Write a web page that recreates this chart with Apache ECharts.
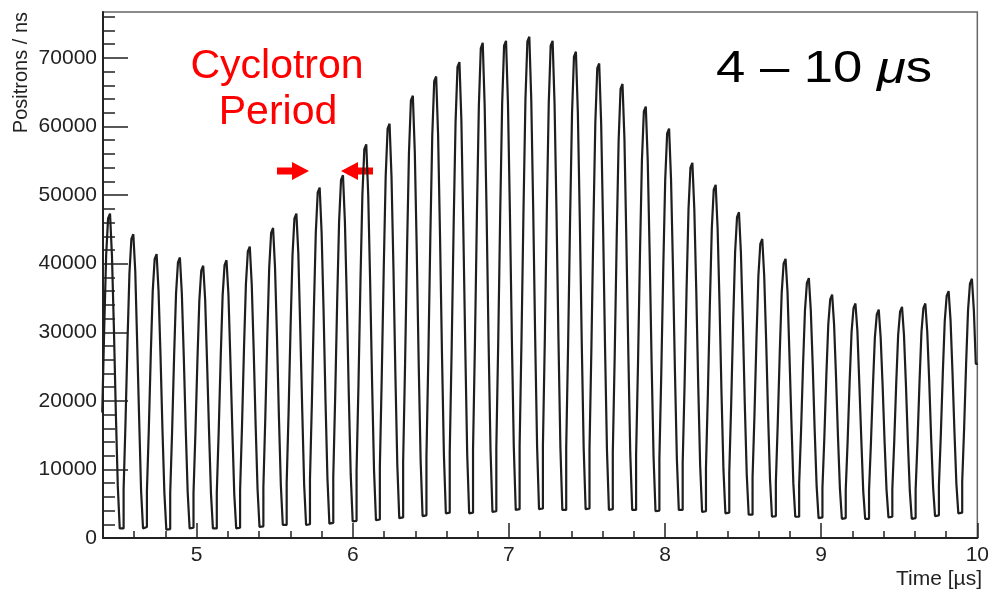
<!DOCTYPE html>
<html>
<head>
<meta charset="utf-8">
<script src="https://cdn.jsdelivr.net/npm/echarts@6/dist/echarts.min.js"></script>
<style>
html,body{margin:0;padding:0;background:#fff;}
#chart{width:992px;height:592px;}
</style>
</head>
<body>
<div id="chart"></div>
<script>
// Histogram: bin contents (positrons per bin), bins of ~12.4 ns (1/12 cyclotron period)
const binStart = 4.39527;     // µs, left edge of first bin
const binWidth = 0.0124333;   // µs
const counts = [
  18300, 30500, 41200, 46600,
  47300, 41100, 30500, 18200, 7600, 1400, 1400, 7100, 17100, 28600, 38600, 43600,
  44300, 38900, 28300, 17400, 6900, 1400, 1600, 6800, 16000, 26800, 36000, 40700,
  41400, 36000, 26700, 15900, 6600, 1200, 1300, 6500, 15700, 26400, 35600, 40200,
  40900, 35600, 26400, 15900, 6700, 1400, 1500, 6500, 15400, 25700, 34600, 39000,
  39700, 34800, 25500, 15600, 6500, 1400, 1400, 6600, 15700, 26200, 35300, 39800,
  40500, 35500, 26000, 15900, 6400, 1400, 1500, 6900, 16400, 27500, 37000, 41800,
  42500, 37000, 27500, 16600, 7100, 1600, 1700, 7400, 17600, 29200, 39400, 44500,
  45200, 39400, 29400, 17700, 7700, 1900, 1900, 8000, 18500, 30700, 41200, 46600,
  47300, 41500, 30400, 18800, 7800, 1900, 2000, 8500, 19900, 33100, 44500, 50400,
  51100, 44500, 33200, 20000, 8700, 2100, 2200, 8900, 20700, 34300, 46100, 52200,
  52900, 46100, 34400, 20900, 9200, 2400, 2500, 9800, 22500, 37300, 50000, 56700,
  57400, 50100, 37300, 22700, 9900, 2600, 2700, 10300, 23800, 39200, 52700, 59700,
  60400, 52700, 39400, 23900, 10600, 2900, 3000, 11200, 25400, 42000, 56200, 63800,
  64500, 56300, 42100, 25600, 11400, 3200, 3300, 11800, 26700, 43800, 58700, 66600,
  67300, 58800, 44000, 26900, 12100, 3600, 3700, 12400, 27700, 45300, 60600, 68700,
  69400, 60900, 45000, 27900, 12200, 3600, 3700, 12800, 28700, 47100, 63000, 71400,
  72200, 63000, 47200, 28800, 13000, 3800, 3900, 13000, 28900, 47400, 63300, 71800,
  72500, 63300, 47500, 29100, 13300, 4100, 4200, 13300, 29400, 47800, 63900, 72400,
  73100, 63900, 47900, 29400, 13400, 4200, 4300, 13400, 29200, 47500, 63300, 71800,
  72500, 63300, 47500, 29100, 13300, 4100, 4100, 13100, 28500, 46500, 61900, 70200,
  70900, 62000, 46500, 28600, 13100, 4200, 4300, 12900, 28000, 45400, 60500, 68500,
  69200, 60500, 45400, 27900, 12800, 4100, 4200, 12400, 26800, 43500, 57900, 65500,
  66200, 58200, 43200, 27000, 12300, 4100, 4100, 12000, 25600, 41400, 55000, 62200,
  62900, 55000, 41300, 25500, 11800, 3900, 4000, 11400, 24300, 39300, 52200, 59000,
  59700, 52300, 39400, 24500, 11600, 4100, 4100, 10900, 22600, 36200, 47900, 54000,
  54700, 47900, 36100, 22400, 10600, 3800, 3900, 10200, 21300, 34000, 45100, 50800,
  51500, 45100, 34000, 21100, 10000, 3600, 3700, 9500, 19700, 31400, 41600, 46800,
  47500, 41600, 31400, 19500, 9300, 3400, 3400, 8800, 18100, 28900, 38200, 42900,
  43600, 38200, 28800, 17900, 8500, 3100, 3200, 8100, 16900, 26900, 35700, 40000,
  40700, 35900, 26700, 17100, 8000, 3100, 3100, 7800, 15800, 25200, 33200, 37200,
  37900, 33200, 25100, 15700, 7600, 2900, 3000, 7300, 14800, 23600, 31100, 34800,
  35500, 31100, 23500, 14800, 7200, 2800, 2900, 7000, 14300, 22700, 30000, 33500,
  34200, 30200, 22500, 14500, 6900, 2800, 2800, 6900, 14000, 22100, 29200, 32600,
  33300, 29200, 22200, 14100, 7100, 3000, 3100, 7100, 14200, 22500, 29600, 33000,
  33700, 29600, 22400, 14100, 6900, 2800, 2900, 7000, 14300, 22700, 30000, 33500,
  34200, 30000, 22900, 14500, 7400, 3200, 3300, 7600, 15200, 24000, 31600, 35300,
  36000, 31700, 24100, 15500, 7900, 3600, 3700, 8200, 16100, 25300, 33200, 37100,
  37800, 33200, 25400
];
const xMajorTicks = [5, 6, 7, 8, 9, 10];
const xMinorTicks = [4.6, 4.8, 5.2, 5.4, 5.6, 5.8, 6.2, 6.4, 6.6, 6.8, 7.2, 7.4, 7.6, 7.8,
                     8.2, 8.4, 8.6, 8.8, 9.2, 9.4, 9.6, 9.8];
const yMajorTicks = [0, 10000, 20000, 30000, 40000, 50000, 60000, 70000];
const yMinorTicks = [2000, 4000, 6000, 8000, 12000, 14000, 16000, 18000, 22000, 24000, 26000, 28000,
                     32000, 34000, 36000, 38000, 42000, 44000, 46000, 48000, 52000, 54000, 56000, 58000,
                     62000, 64000, 66000, 68000, 72000, 74000, 76000];
const xRange = [4.4, 10];
const yRange = [0, 76700];

// build step points (left edge of each bin + closing right edge)
const points = counts.map((v, i) => [binStart + i * binWidth, v]);
points.push([binStart + counts.length * binWidth, counts[counts.length - 1]]);

const FONT = 'Liberation Sans, Arial, Helvetica, sans-serif';
const axisColor = '#222';

const chart = echarts.init(document.getElementById('chart'), null, {renderer: 'canvas'});
chart.setOption({
  animation: false,
  backgroundColor: '#fff',
  grid: {left: 103, right: 11, top: 12, bottom: 54, show: true, borderColor: '#666', borderWidth: 1.5},
  xAxis: [
    {
      type: 'value', min: xRange[0], max: xRange[1], position: 'bottom',
      axisLine: {show: true, lineStyle: {color: axisColor, width: 2}},
      axisTick: {show: true, inside: true, length: 15, customValues: xMajorTicks, lineStyle: {color: axisColor, width: 1.5}},
      axisLabel: {customValues: xMajorTicks, fontSize: 21, color: axisColor, margin: 7, fontFamily: FONT,
                  formatter: v => String(v)},
      splitLine: {show: false}
    },
    {
      type: 'value', min: xRange[0], max: xRange[1], position: 'bottom', offset: 0,
      axisLine: {show: false},
      axisTick: {show: true, inside: true, length: 7, customValues: xMinorTicks, lineStyle: {color: axisColor, width: 1.5}},
      axisLabel: {show: false},
      splitLine: {show: false}
    }
  ],
  yAxis: [
    {
      type: 'value', min: yRange[0], max: yRange[1], position: 'left',
      axisLine: {show: true, lineStyle: {color: axisColor, width: 2}},
      axisTick: {show: true, inside: true, length: 25, customValues: yMajorTicks, lineStyle: {color: axisColor, width: 1.5}},
      axisLabel: {customValues: yMajorTicks, fontSize: 21, color: axisColor, margin: 6, fontFamily: FONT,
                  formatter: v => String(v)},
      splitLine: {show: false}
    },
    {
      type: 'value', min: yRange[0], max: yRange[1], position: 'left', offset: 0,
      axisLine: {show: false},
      axisTick: {show: true, inside: true, length: 12, customValues: yMinorTicks, lineStyle: {color: axisColor, width: 1.5}},
      axisLabel: {show: false},
      splitLine: {show: false}
    }
  ],
  series: [{
    type: 'line',
    step: 'end',
    xAxisIndex: 0, yAxisIndex: 0,
    data: points,
    showSymbol: false,
    clip: true,
    lineStyle: {color: '#1e1e1e', width: 2.2},
    z: 3
  }],
  graphic: [
    {type: 'text', x: 21, y: 12, rotation: Math.PI / 2,
     style: {text: 'Positrons / ns', fontSize: 20, fontFamily: FONT, fill: '#222', align: 'right', verticalAlign: 'middle'}},
    {type: 'text', x: 982, y: 579,
     style: {text: 'Time [µs]', fontSize: 21, fontFamily: FONT, fill: '#222', align: 'right', verticalAlign: 'middle'}},
    {type: 'text', x: 277, y: 67,
     style: {text: 'Cyclotron', fontSize: 41, fontFamily: FONT, fill: '#ff0000', align: 'center', verticalAlign: 'middle'}},
    {type: 'text', x: 278, y: 113,
     style: {text: 'Period', fontSize: 41, fontFamily: FONT, fill: '#ff0000', align: 'center', verticalAlign: 'middle'}},
    {type: 'text', x: 716, y: 70, scaleX: 1.17,
     style: {text: '4 – 10 {m|μ}s', fontSize: 45, fontFamily: FONT, fill: '#000', align: 'left', verticalAlign: 'middle',
       rich: {m: {fontSize: 45, fontFamily: FONT, fontStyle: 'italic', fill: '#000'}}}},
    {type: 'polygon', shape: {points: [[277,167.5],[292,167.5],[292,162],[309,171],[292,180],[292,174.5],[277,174.5]]},
     style: {fill: '#ff0000'}},
    {type: 'polygon', shape: {points: [[373,167.5],[358,167.5],[358,162],[341,171],[358,180],[358,174.5],[373,174.5]]},
     style: {fill: '#ff0000'}}
  ]
});
</script>
</body>
</html>
